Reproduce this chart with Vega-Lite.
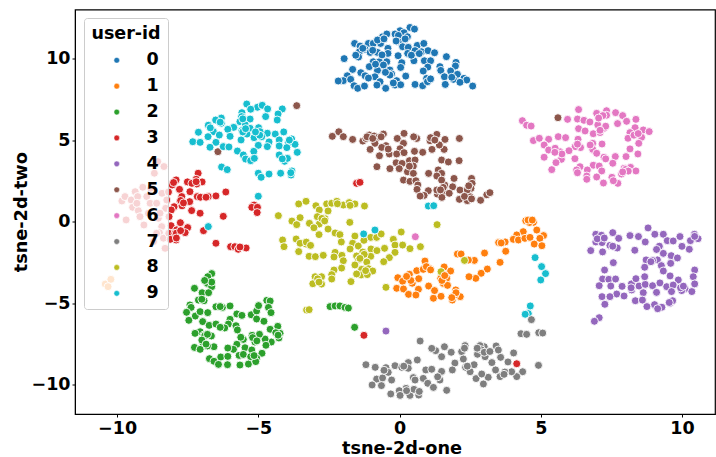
{"$schema":"https://vega.github.io/schema/vega-lite/v6.json","width":640,"height":404.5,"autosize":"none","padding":{"left":75,"top":9.5,"right":1,"bottom":43},"background":"white",
"config":{"font":"DejaVu Sans","view":{"stroke":"black","strokeWidth":1.2}},
"data":{"values":[
{"x":0.37,"y":11.9,"u":"0"},{"x":0.53,"y":11.8,"u":"0"},{"x":0.02,"y":11.7,"u":"0"},{"x":-0.16,"y":11.5,"u":"0"},{"x":0.16,"y":11.58,"u":"0"},{"x":-0.04,"y":11.41,"u":"0"},{"x":0.28,"y":11.33,"u":"0"},{"x":-0.6,"y":11.33,"u":"0"},{"x":-0.45,"y":11.5,"u":"0"},{"x":-1.59,"y":10.92,"u":"0"},{"x":-1.4,"y":10.76,"u":"0"},{"x":-1.1,"y":10.92,"u":"0"},{"x":-0.93,"y":10.92,"u":"0"},{"x":-0.67,"y":10.92,"u":"0"},{"x":-0.78,"y":11.13,"u":"0"},{"x":-0.04,"y":11.03,"u":"0"},{"x":-0.12,"y":11.07,"u":"0"},{"x":0.11,"y":10.72,"u":"0"},{"x":0.31,"y":10.68,"u":"0"},{"x":0.63,"y":10.8,"u":"0"},{"x":0.86,"y":10.92,"u":"0"},{"x":-0.41,"y":10.62,"u":"0"},{"x":-1.22,"y":10.56,"u":"0"},{"x":-1.42,"y":10.41,"u":"0"},{"x":-1.04,"y":10.37,"u":"0"},{"x":-0.78,"y":10.37,"u":"0"},{"x":-0.41,"y":10.31,"u":"0"},{"x":-0.05,"y":10.17,"u":"0"},{"x":0.29,"y":10.31,"u":"0"},{"x":0.55,"y":10.48,"u":"0"},{"x":0.78,"y":10.41,"u":"0"},{"x":1.01,"y":10.48,"u":"0"},{"x":1.24,"y":10.35,"u":"0"},{"x":1.66,"y":10.11,"u":"0"},{"x":-1.96,"y":9.99,"u":"0"},{"x":-1.45,"y":10.09,"u":"0"},{"x":-0.93,"y":9.8,"u":"0"},{"x":-0.71,"y":9.8,"u":"0"},{"x":-0.45,"y":9.8,"u":"0"},{"x":0.08,"y":9.74,"u":"0"},{"x":0.51,"y":9.86,"u":"0"},{"x":0.88,"y":9.86,"u":"0"},{"x":1.1,"y":9.86,"u":"0"},{"x":2.0,"y":9.76,"u":"0"},{"x":-1.07,"y":9.5,"u":"0"},{"x":-0.57,"y":9.6,"u":"0"},{"x":0.04,"y":9.45,"u":"0"},{"x":1.0,"y":9.47,"u":"0"},{"x":1.43,"y":9.5,"u":"0"},{"x":1.98,"y":9.54,"u":"0"},{"x":-1.66,"y":9.33,"u":"0"},{"x":-1.37,"y":9.13,"u":"0"},{"x":-0.78,"y":9.27,"u":"0"},{"x":-0.34,"y":9.29,"u":"0"},{"x":-0.28,"y":9.05,"u":"0"},{"x":0.84,"y":9.23,"u":"0"},{"x":1.46,"y":9.27,"u":"0"},{"x":1.81,"y":9.23,"u":"0"},{"x":-1.85,"y":8.94,"u":"0"},{"x":-1.22,"y":8.94,"u":"0"},{"x":-0.87,"y":8.88,"u":"0"},{"x":-0.34,"y":8.98,"u":"0"},{"x":0.22,"y":8.92,"u":"0"},{"x":1.59,"y":8.88,"u":"0"},{"x":2.05,"y":9.03,"u":"0"},{"x":-1.99,"y":8.64,"u":"0"},{"x":-2.17,"y":8.62,"u":"0"},{"x":-1.73,"y":8.72,"u":"0"},{"x":-0.69,"y":8.58,"u":"0"},{"x":-0.1,"y":8.64,"u":"0"},{"x":0.96,"y":8.78,"u":"0"},{"x":1.91,"y":8.72,"u":"0"},{"x":2.28,"y":8.78,"u":"0"},{"x":2.38,"y":8.68,"u":"0"},{"x":-1.61,"y":8.33,"u":"0"},{"x":-1.48,"y":8.17,"u":"0"},{"x":-1.24,"y":8.31,"u":"0"},{"x":-0.8,"y":8.37,"u":"0"},{"x":-0.49,"y":8.17,"u":"0"},{"x":-0.16,"y":8.37,"u":"0"},{"x":0.04,"y":8.39,"u":"0"},{"x":0.55,"y":8.41,"u":"0"},{"x":0.82,"y":8.33,"u":"0"},{"x":0.99,"y":8.58,"u":"0"},{"x":1.62,"y":8.41,"u":"0"},{"x":2.14,"y":8.54,"u":"0"},{"x":2.59,"y":8.31,"u":"0"},
{"x":-2.15,"y":5.51,"u":"5"},{"x":-2.38,"y":5.23,"u":"5"},{"x":-1.99,"y":5.21,"u":"5"},{"x":-1.66,"y":5.04,"u":"5"},{"x":-1.3,"y":4.94,"u":"5"},{"x":-1.07,"y":5.31,"u":"5"},{"x":-0.9,"y":5.25,"u":"5"},{"x":-0.57,"y":5.37,"u":"5"},{"x":-0.75,"y":5.17,"u":"5"},{"x":-0.87,"y":4.8,"u":"5"},{"x":-1.04,"y":4.43,"u":"5"},{"x":-1.19,"y":5.1,"u":"5"},{"x":-0.08,"y":5.1,"u":"5"},{"x":0.16,"y":5.41,"u":"5"},{"x":0.61,"y":5.1,"u":"5"},{"x":1.22,"y":5.17,"u":"5"},{"x":1.32,"y":5.35,"u":"5"},{"x":1.08,"y":4.96,"u":"5"},{"x":1.61,"y":5.04,"u":"5"},{"x":2.12,"y":5.1,"u":"5"},{"x":0.14,"y":4.8,"u":"5"},{"x":-0.48,"y":4.66,"u":"5"},{"x":-0.63,"y":4.55,"u":"5"},{"x":0.02,"y":4.47,"u":"5"},{"x":-0.71,"y":4.04,"u":"5"},{"x":-0.36,"y":4.15,"u":"5"},{"x":-0.1,"y":4.15,"u":"5"},{"x":0.16,"y":4.23,"u":"5"},{"x":0.53,"y":4.31,"u":"5"},{"x":0.82,"y":4.25,"u":"5"},{"x":1.15,"y":4.43,"u":"5"},{"x":1.58,"y":4.43,"u":"5"},{"x":1.41,"y":4.7,"u":"5"},{"x":1.49,"y":3.78,"u":"5"},{"x":1.73,"y":3.66,"u":"5"},{"x":2.11,"y":3.74,"u":"5"},{"x":-0.8,"y":3.37,"u":"5"},{"x":-0.34,"y":3.25,"u":"5"},{"x":-0.12,"y":3.61,"u":"5"},{"x":0.09,"y":3.57,"u":"5"},{"x":0.35,"y":3.74,"u":"5"},{"x":0.55,"y":3.78,"u":"5"},{"x":-0.01,"y":3.25,"u":"5"},{"x":0.49,"y":3.41,"u":"5"},{"x":0.28,"y":3.06,"u":"5"},{"x":0.49,"y":2.96,"u":"5"},{"x":1.03,"y":2.96,"u":"5"},{"x":1.37,"y":3.17,"u":"5"},{"x":1.49,"y":2.96,"u":"5"},{"x":1.32,"y":2.8,"u":"5"},{"x":1.93,"y":2.65,"u":"5"},{"x":0.14,"y":2.55,"u":"5"},{"x":0.37,"y":2.47,"u":"5"},{"x":0.58,"y":2.51,"u":"5"},{"x":0.65,"y":2.25,"u":"5"},{"x":1.6,"y":2.25,"u":"5"},{"x":1.88,"y":2.14,"u":"5"},{"x":1.49,"y":2.55,"u":"5"},{"x":2.55,"y":2.65,"u":"5"},{"x":2.57,"y":2.35,"u":"5"},{"x":0.62,"y":1.98,"u":"5"},{"x":1.02,"y":1.9,"u":"5"},{"x":0.87,"y":1.61,"u":"5"},{"x":1.34,"y":1.69,"u":"5"},{"x":1.58,"y":1.82,"u":"5"},{"x":1.76,"y":1.74,"u":"5"},{"x":2.14,"y":1.94,"u":"5"},{"x":2.53,"y":2.04,"u":"5"},{"x":3.09,"y":1.65,"u":"5"},{"x":3.2,"y":1.78,"u":"5"},{"x":0.73,"y":1.57,"u":"5"},{"x":1.5,"y":1.49,"u":"5"},{"x":2.12,"y":1.37,"u":"5"},{"x":2.4,"y":1.29,"u":"5"},{"x":2.5,"y":1.53,"u":"5"},{"x":2.87,"y":1.31,"u":"5"},{"x":1.32,"y":1.94,"u":"5"},{"x":-3.64,"y":7.11,"u":"5"},{"x":-6.43,"y":4.29,"u":"5"},{"x":5.61,"y":6.37,"u":"5"},
{"x":4.35,"y":6.19,"u":"6"},{"x":4.5,"y":5.91,"u":"6"},{"x":4.66,"y":5.86,"u":"6"},{"x":6.34,"y":6.87,"u":"6"},{"x":5.95,"y":6.27,"u":"6"},{"x":6.3,"y":6.29,"u":"6"},{"x":6.53,"y":6.21,"u":"6"},{"x":6.74,"y":6.11,"u":"6"},{"x":6.98,"y":6.64,"u":"6"},{"x":7.33,"y":6.8,"u":"6"},{"x":7.33,"y":6.52,"u":"6"},{"x":7.65,"y":6.68,"u":"6"},{"x":7.9,"y":6.5,"u":"6"},{"x":8.04,"y":6.15,"u":"6"},{"x":8.37,"y":6.27,"u":"6"},{"x":7.02,"y":5.93,"u":"6"},{"x":7.24,"y":5.72,"u":"6"},{"x":7.72,"y":6.01,"u":"6"},{"x":6.34,"y":5.7,"u":"6"},{"x":6.57,"y":5.56,"u":"6"},{"x":6.86,"y":5.39,"u":"6"},{"x":7.1,"y":5.46,"u":"6"},{"x":8.34,"y":5.76,"u":"6"},{"x":8.16,"y":5.46,"u":"6"},{"x":8.63,"y":5.62,"u":"6"},{"x":8.84,"y":5.52,"u":"6"},{"x":8.57,"y":5.17,"u":"6"},{"x":8.09,"y":5.11,"u":"6"},{"x":8.47,"y":4.8,"u":"6"},{"x":4.74,"y":4.97,"u":"6"},{"x":4.95,"y":5.11,"u":"6"},{"x":5.28,"y":5.05,"u":"6"},{"x":5.62,"y":5.21,"u":"6"},{"x":5.88,"y":5.15,"u":"6"},{"x":6.32,"y":5.05,"u":"6"},{"x":6.84,"y":4.8,"u":"6"},{"x":7.17,"y":4.76,"u":"6"},{"x":6.41,"y":4.54,"u":"6"},{"x":6.22,"y":4.6,"u":"6"},{"x":5.12,"y":4.7,"u":"6"},{"x":5.28,"y":4.39,"u":"6"},{"x":5.68,"y":4.29,"u":"6"},{"x":6.0,"y":4.35,"u":"6"},{"x":5.51,"y":4.5,"u":"6"},{"x":8.16,"y":4.46,"u":"6"},{"x":6.84,"y":4.43,"u":"6"},{"x":8.44,"y":4.15,"u":"6"},{"x":8.02,"y":3.99,"u":"6"},{"x":5.12,"y":3.95,"u":"6"},{"x":6.21,"y":3.86,"u":"6"},{"x":5.73,"y":3.82,"u":"6"},{"x":5.54,"y":3.62,"u":"6"},{"x":6.98,"y":4.19,"u":"6"},{"x":7.24,"y":3.95,"u":"6"},{"x":7.64,"y":3.99,"u":"6"},{"x":7.55,"y":3.58,"u":"6"},{"x":6.86,"y":3.46,"u":"6"},{"x":7.07,"y":3.41,"u":"6"},{"x":6.39,"y":3.37,"u":"6"},{"x":5.39,"y":3.19,"u":"6"},{"x":6.27,"y":3.17,"u":"6"},{"x":6.65,"y":3.17,"u":"6"},{"x":7.16,"y":3.11,"u":"6"},{"x":6.63,"y":2.8,"u":"6"},{"x":6.98,"y":2.74,"u":"6"},{"x":8.18,"y":3.33,"u":"6"},{"x":7.95,"y":3.27,"u":"6"},{"x":8.37,"y":3.11,"u":"6"},{"x":7.86,"y":2.92,"u":"6"},{"x":7.52,"y":2.72,"u":"6"},{"x":7.22,"y":2.37,"u":"6"},{"x":7.73,"y":2.35,"u":"6"},{"x":7.57,"y":2.51,"u":"6"},{"x":6.63,"y":2.6,"u":"6"},{"x":0.56,"y":-0.92,"u":"6"},
{"x":-8.56,"y":3.68,"u":"3"},{"x":-8.34,"y":3.38,"u":"3"},{"x":-8.68,"y":2.97,"u":"3"},{"x":-9.83,"y":1.27,"u":"3"},{"x":-9.72,"y":1.54,"u":"3"},{"x":-9.36,"y":1.84,"u":"3"},{"x":-9.09,"y":2.11,"u":"3"},{"x":-8.81,"y":2.05,"u":"3"},{"x":-9.5,"y":1.33,"u":"3"},{"x":-9.27,"y":1.54,"u":"3"},{"x":-8.41,"y":1.74,"u":"3"},{"x":-8.95,"y":1.54,"u":"3"},{"x":-8.24,"y":1.33,"u":"3"},{"x":-8.83,"y":1.13,"u":"3"},{"x":-9.45,"y":0.88,"u":"3"},{"x":-9.25,"y":0.68,"u":"3"},{"x":-8.28,"y":0.82,"u":"3"},{"x":-9.68,"y":0.11,"u":"3"},{"x":-9.19,"y":0.31,"u":"3"},{"x":-8.54,"y":0.21,"u":"3"},{"x":-9.05,"y":-0.2,"u":"3"},{"x":-8.42,"y":-0.3,"u":"3"},{"x":-8.5,"y":-0.67,"u":"3"},{"x":-8.36,"y":-1.01,"u":"3"},{"x":-8.71,"y":-1.22,"u":"3"},{"x":-8.3,"y":-1.63,"u":"3"},{"x":-8.6,"y":1.13,"u":"3"},{"x":-8.89,"y":0.52,"u":"3"},{"x":-8.48,"y":0.52,"u":"3"},{"x":-8.6,"y":-0.71,"u":"3"},{"x":-9.3,"y":1.13,"u":"3"},
{"x":8.8,"y":-0.38,"u":"4"},{"x":6.95,"y":-0.77,"u":"4"},{"x":7.15,"y":-0.83,"u":"4"},{"x":7.55,"y":-0.67,"u":"4"},{"x":8.16,"y":-0.85,"u":"4"},{"x":8.46,"y":-0.91,"u":"4"},{"x":9.04,"y":-0.77,"u":"4"},{"x":9.34,"y":-0.77,"u":"4"},{"x":10.44,"y":-0.77,"u":"4"},{"x":9.93,"y":-0.91,"u":"4"},{"x":7.76,"y":-1.02,"u":"4"},{"x":6.95,"y":-1.24,"u":"4"},{"x":7.17,"y":-1.28,"u":"4"},{"x":7.45,"y":-1.45,"u":"4"},{"x":7.71,"y":-1.61,"u":"4"},{"x":6.77,"y":-1.77,"u":"4"},{"x":7.19,"y":-1.85,"u":"4"},{"x":8.33,"y":-1.75,"u":"4"},{"x":8.7,"y":-1.24,"u":"4"},{"x":9.48,"y":-1.16,"u":"4"},{"x":9.69,"y":-1.18,"u":"4"},{"x":10.3,"y":-1.16,"u":"4"},{"x":10.57,"y":-1.04,"u":"4"},{"x":10.0,"y":-1.51,"u":"4"},{"x":10.26,"y":-1.69,"u":"4"},{"x":9.2,"y":-1.65,"u":"4"},{"x":9.34,"y":-1.94,"u":"4"},{"x":9.62,"y":-2.08,"u":"4"},{"x":9.84,"y":-2.22,"u":"4"},{"x":8.73,"y":-2.34,"u":"4"},{"x":9.13,"y":-2.34,"u":"4"},{"x":8.96,"y":-2.38,"u":"4"},{"x":9.6,"y":-2.55,"u":"4"},{"x":7.57,"y":-2.51,"u":"4"},{"x":7.26,"y":-2.96,"u":"4"},{"x":8.68,"y":-2.79,"u":"4"},{"x":9.27,"y":-2.69,"u":"4"},{"x":9.34,"y":-3.02,"u":"4"},{"x":10.45,"y":-2.96,"u":"4"},{"x":10.4,"y":-3.37,"u":"4"},{"x":9.58,"y":-3.32,"u":"4"},{"x":7.19,"y":-3.51,"u":"4"},{"x":7.41,"y":-3.53,"u":"4"},{"x":7.65,"y":-3.51,"u":"4"},{"x":7.07,"y":-3.92,"u":"4"},{"x":7.48,"y":-3.94,"u":"4"},{"x":7.88,"y":-3.96,"u":"4"},{"x":8.21,"y":-3.81,"u":"4"},{"x":8.48,"y":-3.94,"u":"4"},{"x":8.7,"y":-3.84,"u":"4"},{"x":8.96,"y":-3.92,"u":"4"},{"x":9.22,"y":-3.75,"u":"4"},{"x":8.37,"y":-3.49,"u":"4"},{"x":8.68,"y":-3.37,"u":"4"},{"x":9.46,"y":-3.98,"u":"4"},{"x":9.87,"y":-3.57,"u":"4"},{"x":9.69,"y":-3.88,"u":"4"},{"x":10.45,"y":-3.81,"u":"4"},{"x":10.11,"y":-4.1,"u":"4"},{"x":10.35,"y":-4.28,"u":"4"},{"x":9.99,"y":-4.22,"u":"4"},{"x":8.63,"y":-4.35,"u":"4"},{"x":8.22,"y":-4.18,"u":"4"},{"x":7.69,"y":-4.43,"u":"4"},{"x":7.95,"y":-4.55,"u":"4"},{"x":9.1,"y":-4.33,"u":"4"},{"x":9.63,"y":-4.28,"u":"4"},{"x":7.17,"y":-4.59,"u":"4"},{"x":7.45,"y":-4.59,"u":"4"},{"x":7.27,"y":-5.06,"u":"4"},{"x":8.35,"y":-4.84,"u":"4"},{"x":8.6,"y":-4.8,"u":"4"},{"x":8.76,"y":-5.2,"u":"4"},{"x":9.03,"y":-5.08,"u":"4"},{"x":9.29,"y":-5.24,"u":"4"},{"x":9.58,"y":-5.0,"u":"4"},{"x":7.07,"y":-5.88,"u":"4"},{"x":6.9,"y":-6.1,"u":"4"},{"x":9.14,"y":-5.33,"u":"4"},{"x":9.67,"y":-4.84,"u":"4"},{"x":-0.48,"y":-6.7,"u":"4"},
{"x":4.47,"y":0.06,"u":"1"},{"x":4.74,"y":-0.04,"u":"1"},{"x":4.86,"y":-0.51,"u":"1"},{"x":4.38,"y":-0.61,"u":"1"},{"x":4.15,"y":-0.81,"u":"1"},{"x":4.03,"y":-1.08,"u":"1"},{"x":4.21,"y":-1.12,"u":"1"},{"x":4.44,"y":-1.02,"u":"1"},{"x":4.62,"y":-0.96,"u":"1"},{"x":5.1,"y":-0.85,"u":"1"},{"x":4.97,"y":-1.02,"u":"1"},{"x":4.77,"y":-1.37,"u":"1"},{"x":5.04,"y":-1.47,"u":"1"},{"x":3.51,"y":-1.28,"u":"1"},{"x":3.74,"y":-1.24,"u":"1"},{"x":3.76,"y":-1.81,"u":"1"},{"x":3.56,"y":-2.49,"u":"1"},{"x":3.11,"y":-2.9,"u":"1"},{"x":2.89,"y":-3.16,"u":"1"},{"x":2.7,"y":-3.47,"u":"1"},{"x":2.46,"y":-3.37,"u":"1"},{"x":3.01,"y":-1.92,"u":"1"},{"x":2.05,"y":-1.98,"u":"1"},{"x":2.18,"y":-1.98,"u":"1"},{"x":2.65,"y":-2.37,"u":"1"},{"x":2.44,"y":-2.35,"u":"1"},{"x":0.9,"y":-2.41,"u":"1"},{"x":0.61,"y":-3.0,"u":"1"},{"x":1.08,"y":-2.88,"u":"1"},{"x":0.84,"y":-2.92,"u":"1"},{"x":1.58,"y":-2.77,"u":"1"},{"x":1.81,"y":-3.02,"u":"1"},{"x":1.46,"y":-3.47,"u":"1"},{"x":1.67,"y":-3.47,"u":"1"},{"x":1.55,"y":-3.78,"u":"1"},{"x":1.7,"y":-3.9,"u":"1"},{"x":1.99,"y":-4.18,"u":"1"},{"x":2.15,"y":-4.59,"u":"1"},{"x":1.87,"y":-4.8,"u":"1"},{"x":1.2,"y":-4.69,"u":"1"},{"x":1.47,"y":-4.57,"u":"1"},{"x":1.03,"y":-3.94,"u":"1"},{"x":1.24,"y":-4.22,"u":"1"},{"x":-0.06,"y":-3.43,"u":"1"},{"x":0.11,"y":-3.65,"u":"1"},{"x":0.35,"y":-3.22,"u":"1"},{"x":0.45,"y":-3.77,"u":"1"},{"x":0.68,"y":-3.49,"u":"1"},{"x":0.67,"y":-4.14,"u":"1"},{"x":-0.1,"y":-4.08,"u":"1"},{"x":0.14,"y":-4.12,"u":"1"},{"x":0.32,"y":-4.45,"u":"1"},{"x":0.58,"y":-4.49,"u":"1"},{"x":1.96,"y":-4.49,"u":"1"},{"x":-10.42,"y":-3.82,"u":"1"},{"x":-10.22,"y":-3.53,"u":"1"},{"x":-10.32,"y":-3.98,"u":"1"},
{"x":-3.57,"y":1.09,"u":"8"},{"x":-3.31,"y":1.25,"u":"8"},{"x":-2.96,"y":0.98,"u":"8"},{"x":-2.58,"y":1.09,"u":"8"},{"x":-2.4,"y":1.13,"u":"8"},{"x":-2.22,"y":1.25,"u":"8"},{"x":-1.99,"y":1.02,"u":"8"},{"x":-1.78,"y":1.17,"u":"8"},{"x":-1.58,"y":1.09,"u":"8"},{"x":-1.24,"y":0.96,"u":"8"},{"x":-2.84,"y":0.72,"u":"8"},{"x":-2.53,"y":0.66,"u":"8"},{"x":-4.29,"y":0.37,"u":"8"},{"x":-3.81,"y":0.04,"u":"8"},{"x":-3.52,"y":0.25,"u":"8"},{"x":-3.64,"y":-0.18,"u":"8"},{"x":-2.91,"y":0.31,"u":"8"},{"x":-2.64,"y":0.19,"u":"8"},{"x":-3.19,"y":-0.1,"u":"8"},{"x":-2.84,"y":-0.14,"u":"8"},{"x":-3.03,"y":-0.37,"u":"8"},{"x":-2.53,"y":-0.45,"u":"8"},{"x":-1.76,"y":-0.04,"u":"8"},{"x":-2.28,"y":-0.69,"u":"8"},{"x":-2.11,"y":-0.79,"u":"8"},{"x":-2.85,"y":-0.79,"u":"8"},{"x":-1.58,"y":-0.88,"u":"8"},{"x":-1.02,"y":-0.96,"u":"8"},{"x":-0.81,"y":-0.96,"u":"8"},{"x":-0.65,"y":-0.75,"u":"8"},{"x":0.06,"y":-0.63,"u":"8"},{"x":1.33,"y":-0.18,"u":"8"},{"x":-4.14,"y":-1.12,"u":"8"},{"x":-3.66,"y":-1.06,"u":"8"},{"x":-4.09,"y":-1.53,"u":"8"},{"x":-3.31,"y":-1.37,"u":"8"},{"x":-3.52,"y":-1.32,"u":"8"},{"x":-3.57,"y":-1.83,"u":"8"},{"x":-2.06,"y":-1.24,"u":"8"},{"x":-1.66,"y":-1.32,"u":"8"},{"x":-1.26,"y":-1.14,"u":"8"},{"x":-1.46,"y":-1.49,"u":"8"},{"x":-1.75,"y":-1.67,"u":"8"},{"x":-1.01,"y":-1.67,"u":"8"},{"x":-0.8,"y":-1.77,"u":"8"},{"x":-0.53,"y":-1.63,"u":"8"},{"x":-0.22,"y":-1.08,"u":"8"},{"x":-0.16,"y":-1.43,"u":"8"},{"x":0.11,"y":-1.43,"u":"8"},{"x":0.37,"y":-1.65,"u":"8"},{"x":0.74,"y":-1.53,"u":"8"},{"x":-0.16,"y":-1.88,"u":"8"},{"x":-1.3,"y":-1.86,"u":"8"},{"x":-2.28,"y":-1.88,"u":"8"},{"x":-2.04,"y":-2.06,"u":"8"},{"x":-3.2,"y":-2.12,"u":"8"},{"x":-2.98,"y":-2.14,"u":"8"},{"x":-2.7,"y":-2.06,"u":"8"},{"x":-2.32,"y":-2.16,"u":"8"},{"x":-1.99,"y":-2.39,"u":"8"},{"x":-1.02,"y":-2.12,"u":"8"},{"x":-1.52,"y":-2.1,"u":"8"},{"x":-1.16,"y":-2.47,"u":"8"},{"x":-0.36,"y":-2.2,"u":"8"},{"x":-0.56,"y":-2.45,"u":"8"},{"x":-1.45,"y":-2.35,"u":"8"},{"x":-1.58,"y":-2.65,"u":"8"},{"x":-2.05,"y":-2.84,"u":"8"},{"x":-2.32,"y":-2.96,"u":"8"},{"x":-2.4,"y":-3.24,"u":"8"},{"x":-2.4,"y":-3.51,"u":"8"},{"x":-1.34,"y":-2.92,"u":"8"},{"x":-1.1,"y":-2.88,"u":"8"},{"x":-0.95,"y":-3.02,"u":"8"},{"x":-1.36,"y":-3.26,"u":"8"},{"x":-1.14,"y":-3.24,"u":"8"},{"x":-1.52,"y":-3.2,"u":"8"},{"x":-1.72,"y":-3.67,"u":"8"},{"x":-2.99,"y":-3.37,"u":"8"},{"x":-2.76,"y":-3.37,"u":"8"},{"x":-3.07,"y":-3.8,"u":"8"},{"x":-2.76,"y":-3.82,"u":"8"},{"x":-0.48,"y":-4.02,"u":"8"},{"x":-3.29,"y":-5.41,"u":"8"},{"x":-3.2,"y":-5.39,"u":"8"},{"x":2.3,"y":-2.37,"u":"8"},{"x":1.47,"y":-3.06,"u":"8"},
{"x":-2.46,"y":-5.2,"u":"2"},{"x":-2.28,"y":-5.16,"u":"2"},{"x":-2.11,"y":-5.16,"u":"2"},{"x":-1.93,"y":-5.25,"u":"2"},{"x":-1.81,"y":-5.29,"u":"2"},{"x":-1.59,"y":-6.47,"u":"2"},
{"x":-1.26,"y":-6.96,"u":"3"},{"x":4.15,"y":-8.7,"u":"3"},{"x":-1.52,"y":2.35,"u":"3"},{"x":-1.4,"y":2.41,"u":"3"},
{"x":-1.27,"y":-0.75,"u":"9"},{"x":-0.87,"y":-0.51,"u":"9"},{"x":4.8,"y":-2.2,"u":"9"},{"x":5.03,"y":-2.75,"u":"9"},{"x":5.17,"y":-3.18,"u":"9"},{"x":5.0,"y":-3.57,"u":"9"},{"x":4.63,"y":-5.16,"u":"9"},{"x":4.56,"y":-5.63,"u":"9"},{"x":4.45,"y":-5.67,"u":"9"},{"x":1.02,"y":0.96,"u":"9"},{"x":1.21,"y":0.98,"u":"9"},
{"x":4.67,"y":-6.0,"u":"7"},{"x":4.3,"y":-6.86,"u":"7"},{"x":4.5,"y":-6.9,"u":"7"},{"x":4.93,"y":-6.8,"u":"7"},{"x":5.07,"y":-6.82,"u":"7"},{"x":4.92,"y":-8.8,"u":"7"},{"x":4.04,"y":-8.04,"u":"7"},{"x":3.84,"y":-8.59,"u":"7"},{"x":4.36,"y":-9.19,"u":"7"},{"x":4.15,"y":-9.49,"u":"7"},{"x":3.97,"y":-9.19,"u":"7"},{"x":3.73,"y":-9.21,"u":"7"},{"x":3.56,"y":-9.49,"u":"7"},{"x":3.4,"y":-9.08,"u":"7"},{"x":3.27,"y":-8.63,"u":"7"},{"x":3.14,"y":-9.53,"u":"7"},{"x":2.97,"y":-9.94,"u":"7"},{"x":2.71,"y":-9.61,"u":"7"},{"x":2.91,"y":-9.33,"u":"7"},{"x":2.32,"y":-7.59,"u":"7"},{"x":2.2,"y":-7.96,"u":"7"},{"x":2.26,"y":-8.41,"u":"7"},{"x":1.96,"y":-8.66,"u":"7"},{"x":1.87,"y":-9.08,"u":"7"},{"x":2.34,"y":-8.92,"u":"7"},{"x":2.5,"y":-9.19,"u":"7"},{"x":2.64,"y":-8.76,"u":"7"},{"x":3.0,"y":-7.66,"u":"7"},{"x":3.42,"y":-7.61,"u":"7"},{"x":3.58,"y":-8.31,"u":"7"},{"x":2.76,"y":-8.12,"u":"7"},{"x":3.03,"y":-8.27,"u":"7"},{"x":3.5,"y":-7.86,"u":"7"},{"x":2.85,"y":-7.59,"u":"7"},{"x":1.59,"y":-7.66,"u":"7"},{"x":1.83,"y":-8.0,"u":"7"},{"x":1.28,"y":-7.9,"u":"7"},{"x":1.49,"y":-8.27,"u":"7"},{"x":1.14,"y":-7.76,"u":"7"},{"x":0.73,"y":-7.31,"u":"7"},{"x":-1.19,"y":-8.76,"u":"7"},{"x":-0.86,"y":-8.92,"u":"7"},{"x":-0.48,"y":-8.94,"u":"7"},{"x":-0.16,"y":-8.82,"u":"7"},{"x":0.08,"y":-8.92,"u":"7"},{"x":0.31,"y":-8.63,"u":"7"},{"x":0.63,"y":-8.47,"u":"7"},{"x":0.31,"y":-8.98,"u":"7"},{"x":0.93,"y":-9.08,"u":"7"},{"x":1.14,"y":-9.04,"u":"7"},{"x":1.49,"y":-9.17,"u":"7"},{"x":-0.4,"y":-9.23,"u":"7"},{"x":-0.81,"y":-9.64,"u":"7"},{"x":-0.6,"y":-9.57,"u":"7"},{"x":-0.28,"y":-9.7,"u":"7"},{"x":-0.97,"y":-10.0,"u":"7"},{"x":-0.64,"y":-10.04,"u":"7"},{"x":1.43,"y":-9.7,"u":"7"},{"x":0.84,"y":-9.6,"u":"7"},{"x":0.49,"y":-9.55,"u":"7"},{"x":1.0,"y":-9.9,"u":"7"},{"x":1.2,"y":-10.15,"u":"7"},{"x":1.67,"y":-10.33,"u":"7"},{"x":0.23,"y":-10.21,"u":"7"},{"x":-0.01,"y":-10.35,"u":"7"},{"x":-0.31,"y":-10.55,"u":"7"},{"x":0.02,"y":-10.64,"u":"7"},{"x":0.37,"y":-10.64,"u":"7"},{"x":0.68,"y":-10.62,"u":"7"},{"x":0.51,"y":-10.27,"u":"7"},
{"x":-6.65,"y":-3.18,"u":"2"},{"x":-6.79,"y":-3.37,"u":"2"},{"x":-6.8,"y":-3.78,"u":"2"},{"x":-6.65,"y":-3.98,"u":"2"},{"x":-7.26,"y":-4.08,"u":"2"},{"x":-6.99,"y":-4.35,"u":"2"},{"x":-6.76,"y":-4.35,"u":"2"},{"x":-7.12,"y":-4.8,"u":"2"},{"x":-6.92,"y":-4.84,"u":"2"},{"x":-7.42,"y":-5.1,"u":"2"},{"x":-7.38,"y":-5.25,"u":"2"},{"x":-7.54,"y":-5.55,"u":"2"},{"x":-7.23,"y":-5.78,"u":"2"},{"x":-7.06,"y":-5.51,"u":"2"},{"x":-6.79,"y":-5.57,"u":"2"},{"x":-7.46,"y":-6.04,"u":"2"},{"x":-6.97,"y":-6.12,"u":"2"},{"x":-6.74,"y":-6.35,"u":"2"},{"x":-6.5,"y":-6.27,"u":"2"},{"x":-6.5,"y":-5.21,"u":"2"},{"x":-6.27,"y":-5.25,"u":"2"},{"x":-6.0,"y":-5.16,"u":"2"},{"x":-5.76,"y":-5.65,"u":"2"},{"x":-5.58,"y":-5.74,"u":"2"},{"x":-5.25,"y":-5.7,"u":"2"},{"x":-5.06,"y":-5.47,"u":"2"},{"x":-4.99,"y":-5.14,"u":"2"},{"x":-4.7,"y":-4.82,"u":"2"},{"x":-4.58,"y":-4.86,"u":"2"},{"x":-4.64,"y":-5.25,"u":"2"},{"x":-4.55,"y":-5.57,"u":"2"},{"x":-5.06,"y":-5.96,"u":"2"},{"x":-4.8,"y":-6.1,"u":"2"},{"x":-6.0,"y":-5.98,"u":"2"},{"x":-6.06,"y":-6.27,"u":"2"},{"x":-6.19,"y":-6.51,"u":"2"},{"x":-5.79,"y":-6.37,"u":"2"},{"x":-6.35,"y":-6.47,"u":"2"},{"x":-5.74,"y":-6.63,"u":"2"},{"x":-4.31,"y":-6.41,"u":"2"},{"x":-4.58,"y":-6.59,"u":"2"},{"x":-4.23,"y":-6.84,"u":"2"},{"x":-4.27,"y":-7.12,"u":"2"},{"x":-4.38,"y":-6.8,"u":"2"},{"x":-4.54,"y":-7.37,"u":"2"},{"x":-4.76,"y":-7.19,"u":"2"},{"x":-4.96,"y":-6.9,"u":"2"},{"x":-5.22,"y":-6.96,"u":"2"},{"x":-5.53,"y":-7.21,"u":"2"},{"x":-5.62,"y":-7.08,"u":"2"},{"x":-5.76,"y":-7.51,"u":"2"},{"x":-5.12,"y":-7.37,"u":"2"},{"x":-5.47,"y":-7.72,"u":"2"},{"x":-5.88,"y":-7.82,"u":"2"},{"x":-6.08,"y":-7.74,"u":"2"},{"x":-4.73,"y":-7.57,"u":"2"},{"x":-6.57,"y":-7.66,"u":"2"},{"x":-7.06,"y":-6.74,"u":"2"},{"x":-6.92,"y":-6.94,"u":"2"},{"x":-6.66,"y":-7.0,"u":"2"},{"x":-7.24,"y":-6.84,"u":"2"},{"x":-6.97,"y":-7.39,"u":"2"},{"x":-7.26,"y":-7.7,"u":"2"},{"x":-7.06,"y":-7.82,"u":"2"},{"x":-6.8,"y":-7.61,"u":"2"},{"x":-5.23,"y":-7.86,"u":"2"},{"x":-4.87,"y":-8.06,"u":"2"},{"x":-5.68,"y":-8.19,"u":"2"},{"x":-5.53,"y":-8.13,"u":"2"},{"x":-5.27,"y":-8.27,"u":"2"},{"x":-5.06,"y":-8.35,"u":"2"},{"x":-6.33,"y":-8.29,"u":"2"},{"x":-6.08,"y":-8.25,"u":"2"},{"x":-6.73,"y":-8.39,"u":"2"},{"x":-6.57,"y":-8.55,"u":"2"},{"x":-6.41,"y":-8.74,"u":"2"},{"x":-6.09,"y":-8.76,"u":"2"},{"x":-5.65,"y":-8.78,"u":"2"},{"x":-5.35,"y":-8.72,"u":"2"},{"x":-5.09,"y":-8.57,"u":"2"},
{"x":-7.13,"y":2.97,"u":"3"},{"x":-7.2,"y":2.6,"u":"3"},{"x":-7.51,"y":2.44,"u":"3"},{"x":-6.99,"y":2.44,"u":"3"},{"x":-7.91,"y":2.56,"u":"3"},{"x":-8.05,"y":2.25,"u":"3"},{"x":-7.79,"y":1.98,"u":"3"},{"x":-7.18,"y":2.31,"u":"3"},{"x":-7.42,"y":1.84,"u":"3"},{"x":-8.18,"y":1.82,"u":"3"},{"x":-7.71,"y":1.54,"u":"3"},{"x":-7.16,"y":1.54,"u":"3"},{"x":-6.77,"y":1.54,"u":"3"},{"x":-6.5,"y":1.58,"u":"3"},{"x":-6.15,"y":1.82,"u":"3"},{"x":-7.77,"y":1.23,"u":"3"},{"x":-7.98,"y":0.92,"u":"3"},{"x":-7.7,"y":0.97,"u":"3"},{"x":-7.43,"y":1.23,"u":"3"},{"x":-8.08,"y":0.72,"u":"3"},{"x":-7.06,"y":0.52,"u":"3"},{"x":-7.36,"y":0.68,"u":"3"},{"x":-6.24,"y":0.33,"u":"3"},{"x":-8.16,"y":0.31,"u":"3"},{"x":-7.76,"y":-0.06,"u":"3"},{"x":-7.5,"y":-0.36,"u":"3"},{"x":-8.09,"y":-0.24,"u":"3"},{"x":-7.89,"y":-0.5,"u":"3"},{"x":-6.94,"y":-0.55,"u":"3"},{"x":-8.17,"y":-0.71,"u":"3"},{"x":-7.95,"y":-0.71,"u":"3"},{"x":-7.59,"y":-0.67,"u":"3"},{"x":-7.91,"y":-1.12,"u":"3"},{"x":-8.12,"y":-1.08,"u":"3"},{"x":-6.5,"y":-1.32,"u":"3"},{"x":-5.98,"y":-1.53,"u":"3"},{"x":-5.83,"y":-1.53,"u":"3"},{"x":-5.71,"y":-1.69,"u":"3"},{"x":-5.43,"y":-1.61,"u":"3"},{"x":-5.65,"y":-1.55,"u":"3"},{"x":-5.15,"y":1.02,"u":"3"},{"x":-5.23,"y":0.88,"u":"3"},{"x":-5.03,"y":0.88,"u":"3"},{"x":-5.04,"y":0.56,"u":"3"},
{"x":-5.41,"y":7.21,"u":"9"},{"x":-5.03,"y":7.01,"u":"9"},{"x":-4.86,"y":7.13,"u":"9"},{"x":-4.67,"y":6.91,"u":"9"},{"x":-5.27,"y":6.89,"u":"9"},{"x":-5.58,"y":6.68,"u":"9"},{"x":-4.15,"y":6.91,"u":"9"},{"x":-4.3,"y":6.6,"u":"9"},{"x":-4.74,"y":6.44,"u":"9"},{"x":-6.31,"y":6.35,"u":"9"},{"x":-6.51,"y":6.23,"u":"9"},{"x":-5.59,"y":6.44,"u":"9"},{"x":-5.29,"y":6.29,"u":"9"},{"x":-5.65,"y":6.13,"u":"9"},{"x":-4.33,"y":6.23,"u":"9"},{"x":-6.31,"y":6.03,"u":"9"},{"x":-6.77,"y":5.91,"u":"9"},{"x":-5.87,"y":5.78,"u":"9"},{"x":-5.46,"y":5.93,"u":"9"},{"x":-5.29,"y":5.72,"u":"9"},{"x":-4.99,"y":5.76,"u":"9"},{"x":-4.68,"y":5.42,"u":"9"},{"x":-4.4,"y":5.37,"u":"9"},{"x":-4.1,"y":5.5,"u":"9"},{"x":-7.12,"y":5.48,"u":"9"},{"x":-6.59,"y":5.52,"u":"9"},{"x":-6.08,"y":5.66,"u":"9"},{"x":-6.38,"y":5.31,"u":"9"},{"x":-6.78,"y":5.21,"u":"9"},{"x":-6.0,"y":5.23,"u":"9"},{"x":-5.58,"y":5.58,"u":"9"},{"x":-5.4,"y":5.37,"u":"9"},{"x":-4.94,"y":5.52,"u":"9"},{"x":-7.32,"y":4.9,"u":"9"},{"x":-7.06,"y":4.86,"u":"9"},{"x":-6.5,"y":4.86,"u":"9"},{"x":-5.61,"y":5.01,"u":"9"},{"x":-5.15,"y":5.15,"u":"9"},{"x":-4.88,"y":5.21,"u":"9"},{"x":-4.62,"y":4.89,"u":"9"},{"x":-4.26,"y":5.01,"u":"9"},{"x":-3.82,"y":5.07,"u":"9"},{"x":-3.94,"y":4.84,"u":"9"},{"x":-3.7,"y":4.74,"u":"9"},{"x":-6.71,"y":4.56,"u":"9"},{"x":-6.24,"y":4.6,"u":"9"},{"x":-6.04,"y":4.58,"u":"9"},{"x":-5.0,"y":4.68,"u":"9"},{"x":-4.68,"y":4.6,"u":"9"},{"x":-4.26,"y":4.64,"u":"9"},{"x":-3.99,"y":4.54,"u":"9"},{"x":-5.74,"y":4.33,"u":"9"},{"x":-5.16,"y":4.31,"u":"9"},{"x":-5.53,"y":4.09,"u":"9"},{"x":-3.62,"y":4.25,"u":"9"},{"x":-5.45,"y":3.84,"u":"9"},{"x":-5.27,"y":3.74,"u":"9"},{"x":-5.14,"y":3.88,"u":"9"},{"x":-4.26,"y":4.09,"u":"9"},{"x":-4.07,"y":3.7,"u":"9"},{"x":-3.97,"y":3.88,"u":"9"},{"x":-6.3,"y":3.35,"u":"9"},{"x":-6.1,"y":3.19,"u":"9"},{"x":-5.0,"y":2.97,"u":"9"},{"x":-4.9,"y":2.72,"u":"9"},{"x":-4.62,"y":2.92,"u":"9"},{"x":-4.21,"y":2.97,"u":"9"},{"x":-3.81,"y":3.11,"u":"9"},{"x":-3.84,"y":2.86,"u":"9"},{"x":-5.0,"y":1.56,"u":"9"},{"x":-6.77,"y":-0.3,"u":"9"},
{"x":-1.3,"y":10.62,"u":"0"},{"x":-1.55,"y":10.2,"u":"0"},{"x":-0.95,"y":10.5,"u":"0"},{"x":-0.62,"y":10.22,"u":"0"},{"x":0.42,"y":10.2,"u":"0"},{"x":0.7,"y":10.3,"u":"0"},{"x":-0.85,"y":9.65,"u":"0"},{"x":-0.5,"y":9.15,"u":"0"},{"x":-0.22,"y":8.5,"u":"0"},{"x":1.1,"y":8.75,"u":"0"},{"x":1.85,"y":8.85,"u":"0"},{"x":-1.1,"y":8.8,"u":"0"},{"x":0.2,"y":11.2,"u":"0"},{"x":-0.55,"y":11.2,"u":"0"},
{"x":-1.15,"y":5.2,"u":"5"},{"x":-0.95,"y":5.1,"u":"5"},{"x":-0.65,"y":5.2,"u":"5"},{"x":1.1,"y":5.15,"u":"5"},{"x":1.25,"y":5.0,"u":"5"},{"x":0.5,"y":5.2,"u":"5"},{"x":-0.4,"y":4.45,"u":"5"},{"x":0.35,"y":3.4,"u":"5"},{"x":1.55,"y":2.1,"u":"5"},{"x":1.45,"y":1.95,"u":"5"},{"x":2.4,"y":1.95,"u":"5"},{"x":2.45,"y":2.2,"u":"5"},{"x":2.3,"y":1.55,"u":"5"},{"x":2.55,"y":1.4,"u":"5"},
{"x":7.2,"y":6.5,"u":"6"},{"x":7.05,"y":6.35,"u":"6"},{"x":7.3,"y":5.85,"u":"6"},{"x":7.1,"y":5.6,"u":"6"},{"x":8.3,"y":5.3,"u":"6"},{"x":8.45,"y":5.4,"u":"6"},{"x":6.75,"y":4.7,"u":"6"},{"x":6.3,"y":4.75,"u":"6"},{"x":5.75,"y":4.15,"u":"6"},{"x":5.5,"y":4.25,"u":"6"},{"x":6.3,"y":3.0,"u":"6"},{"x":8.0,"y":3.2,"u":"6"},{"x":8.1,"y":3.1,"u":"6"},{"x":7.9,"y":3.05,"u":"6"},{"x":7.3,"y":3.85,"u":"6"},
{"x":7.0,"y":-1.05,"u":"4"},{"x":7.25,"y":-1.0,"u":"4"},{"x":9.2,"y":-1.5,"u":"4"},{"x":9.1,"y":-1.7,"u":"4"},{"x":8.9,"y":-2.45,"u":"4"},{"x":9.95,"y":-4.05,"u":"4"},{"x":10.05,"y":-3.95,"u":"4"},{"x":8.2,"y":-4.05,"u":"4"},{"x":9.55,"y":-4.95,"u":"4"},{"x":10.45,"y":-0.9,"u":"4"},{"x":7.55,"y":-1.5,"u":"4"},
{"x":4.6,"y":-0.05,"u":"1"},{"x":4.55,"y":0.1,"u":"1"},{"x":4.7,"y":0.1,"u":"1"},{"x":3.6,"y":-1.3,"u":"1"},{"x":0.95,"y":-2.75,"u":"1"},{"x":1.1,"y":-2.95,"u":"1"},{"x":1.5,"y":-3.6,"u":"1"},{"x":1.6,"y":-3.3,"u":"1"},{"x":2.0,"y":-4.35,"u":"1"},{"x":1.85,"y":-4.65,"u":"1"},{"x":0.4,"y":-3.6,"u":"1"},{"x":0.25,"y":-3.35,"u":"1"},
{"x":-2.75,"y":0.2,"u":"8"},{"x":-2.65,"y":0.05,"u":"8"},{"x":-3.3,"y":-1.25,"u":"8"},{"x":-3.15,"y":-1.45,"u":"8"},{"x":-1.25,"y":-2.0,"u":"8"},{"x":-1.4,"y":-2.25,"u":"8"},{"x":-1.2,"y":-3.0,"u":"8"},{"x":-2.9,"y":-3.5,"u":"8"},{"x":-2.85,"y":-3.7,"u":"8"},{"x":-1.75,"y":1.0,"u":"8"},{"x":-2.2,"y":1.1,"u":"8"},
{"x":2.9,"y":-7.85,"u":"7"},{"x":2.75,"y":-7.75,"u":"7"},{"x":3.0,"y":-8.0,"u":"7"},{"x":3.2,"y":-7.95,"u":"7"},{"x":2.3,"y":-7.75,"u":"7"},{"x":2.4,"y":-8.85,"u":"7"},{"x":0.7,"y":-10.4,"u":"7"},{"x":0.25,"y":-10.35,"u":"7"},{"x":1.35,"y":-9.5,"u":"7"},{"x":0.55,"y":-9.7,"u":"7"},{"x":-0.55,"y":-9.1,"u":"7"},{"x":0.15,"y":-8.85,"u":"7"},{"x":3.7,"y":-9.35,"u":"7"},
{"x":-6.9,"y":-7.0,"u":"2"},{"x":-6.8,"y":-6.9,"u":"2"},{"x":-7.0,"y":-7.25,"u":"2"},{"x":-6.85,"y":-7.5,"u":"2"},{"x":-5.2,"y":-7.1,"u":"2"},{"x":-5.05,"y":-7.3,"u":"2"},{"x":-5.15,"y":-8.2,"u":"2"},{"x":-4.3,"y":-6.95,"u":"2"},{"x":-6.65,"y":-3.7,"u":"2"},{"x":-6.9,"y":-3.6,"u":"2"},{"x":-7.0,"y":-4.75,"u":"2"},{"x":-6.35,"y":-5.2,"u":"2"},
{"x":-7.75,"y":1.3,"u":"3"},{"x":-7.65,"y":1.15,"u":"3"},{"x":-7.35,"y":2.35,"u":"3"},{"x":-7.2,"y":2.45,"u":"3"},{"x":-7.9,"y":-0.7,"u":"3"},{"x":-7.75,"y":-0.55,"u":"3"},{"x":-7.9,"y":-1.0,"u":"3"},{"x":-7.05,"y":1.5,"u":"3"},{"x":-6.85,"y":1.5,"u":"3"},{"x":-8.0,"y":2.4,"u":"3"},
{"x":-4.95,"y":5.3,"u":"9"},{"x":-5.1,"y":5.5,"u":"9"},{"x":-5.55,"y":5.5,"u":"9"},{"x":-5.45,"y":5.7,"u":"9"},{"x":-6.35,"y":6.1,"u":"9"},{"x":-6.7,"y":5.75,"u":"9"},{"x":-4.15,"y":3.85,"u":"9"},{"x":-3.85,"y":3.0,"u":"9"},{"x":-5.55,"y":6.3,"u":"9"},{"x":-3.9,"y":5.0,"u":"9"}
]},
"mark":{"type":"point","filled":true,"stroke":"white","strokeWidth":0.9,"opacity":1,"size":64},
"encoding":{
"x":{"field":"x","type":"quantitative","scale":{"domain":[-11.49,11.17],"nice":false,"zero":false},"axis":{"title":"tsne-2d-one","titleX":326.5,"values":[-10,-5,0,5,10],"labelExpr":"replace(datum.label,'-','−')","grid":false,"domainColor":"black","tickColor":"black","tickSize":3,"labelFontWeight":"bold","labelFontSize":17.5,"labelColor":"black","labelPadding":2,"titleFontWeight":"bold","titleFontSize":17.7,"titleColor":"black","titlePadding":3}},
"y":{"field":"y","type":"quantitative","scale":{"domain":[-11.78,13],"nice":false,"zero":false},"axis":{"title":"tsne-2d-two","titleX":-49,"titleBaseline":"alphabetic","values":[-10,-5,0,5,10],"labelExpr":"replace(datum.label,'-','−')","grid":false,"domainColor":"black","tickColor":"black","tickSize":3,"labelFontWeight":"bold","labelFontSize":17.5,"labelColor":"black","labelPadding":2,"titleFontWeight":"bold","titleFontSize":17.7,"titleColor":"black"}},
"fill":{"field":"u","type":"nominal","scale":{"domain":["0","1","2","3","4","5","6","7","8","9"],"range":["#1f77b4","#ff7f0e","#2ca02c","#d62728","#9467bd","#8c564b","#e377c2","#7f7f7f","#bcbd22","#17becf"]},
"legend":{"title":"user-id","orient":"none","legendX":9,"legendY":8.5,"fillColor":"rgba(255,255,255,0.8)","strokeColor":"#cccccc","cornerRadius":3,"padding":7,"titleFontWeight":"bold","titleFontSize":17.5,"titleColor":"black","titleAnchor":"middle","titlePadding":9,"labelFontWeight":"bold","labelFontSize":17.5,"labelColor":"black","labelOffset":21,"rowPadding":6.9,"symbolType":"circle","symbolSize":32,"symbolStrokeColor":"white","symbolStrokeWidth":0.5,"symbolOffset":15}}
}}
